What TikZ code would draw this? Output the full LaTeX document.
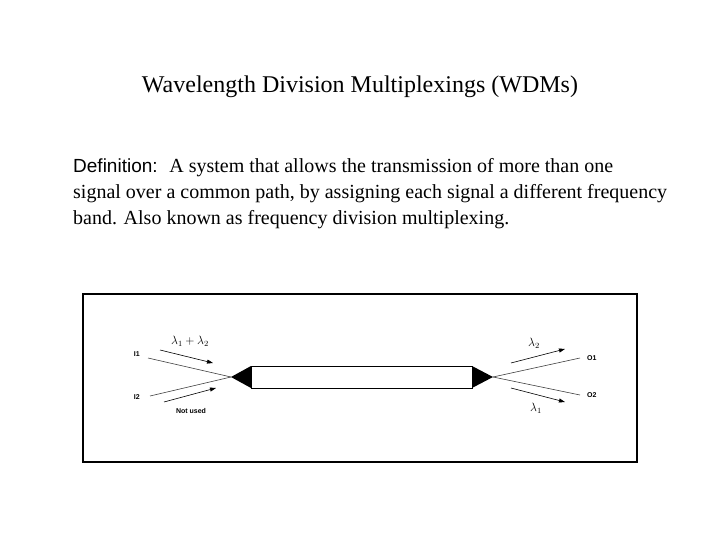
\documentclass[tikz,border=0pt]{standalone}
\usepackage{fontspec}
\setmainfont{Liberation Serif}
\newfontfamily\defsans{Liberation Sans}
\usetikzlibrary{arrows.meta}
\begin{document}
\begin{tikzpicture}[x=1pt,y=-1pt,
  fib/.style={line width=0.6pt,draw=black!75},
  sig/.style={line width=0.6pt,-{Triangle[length=6pt,width=4pt]}},
  port/.style={font=\defsans\bfseries\fontsize{7}{8}\selectfont,inner sep=1pt},
  lam/.style={font=\fontsize{12}{13}\selectfont,inner sep=1pt}]
\useasboundingbox (0,0) rectangle (720,540);
\node (title) at (360,87) {\fontsize{24}{26}\selectfont Wavelength Division Multiplexings (WDMs)};
\node[anchor=north west,align=left,inner sep=0pt,font=\fontsize{20}{26}\selectfont] (def) at (73,158)
 {{\defsans\fontsize{19}{26}\selectfont Definition:} \ A system that allows the transmission of more than one\\
 signal over a common path, by assigning each signal a different frequency\\
 band. Also known as frequency division multiplexing.};
\draw[line width=1.8pt] (83,294) rectangle (637,462);
\coordinate (L) at (231,377);
\coordinate (R) at (493,377);
\fill (L) -- (251,366) -- (251,388) -- cycle;
\fill (R) -- (472,366) -- (472,388) -- cycle;
\draw[line width=0.8pt] (251,366) rectangle (472,388);
\coordinate (i1) at (148,358);
\coordinate (i2) at (150,396);
\coordinate (o1) at (580,358);
\coordinate (o2) at (580,395);
\draw[fib] (i1) -- (L); \draw[fib] (i2) -- (L);
\draw[fib] (R) -- (o1); \draw[fib] (R) -- (o2);
\node[port,anchor=east] (I1) at (141,354) {I1};
\node[port,anchor=east] (I2) at (141,397) {I2};
\node[port,anchor=west] (O1) at (586,358) {O1};
\node[port,anchor=west] (O2) at (586,395) {O2};
\coordinate (a1s) at (160,350); \coordinate (a1e) at (213,363);
\coordinate (a2s) at (164,402); \coordinate (a2e) at (216,388);
\coordinate (a3s) at (511,363); \coordinate (a3e) at (565,349);
\coordinate (a4s) at (511,388); \coordinate (a4e) at (565,402);
\draw[sig] (a1s) -- (a1e); \draw[sig] (a2s) -- (a2e);
\draw[sig] (a3s) -- (a3e); \draw[sig] (a4s) -- (a4e);
\node[lam] (l12) at (190,341) {$\lambda_1+\lambda_2$};
\node[port] (nu) at (191,411) {Not used};
\node[lam] (l2) at (534,343) {$\lambda_2$};
\node[lam] (l1) at (536,408) {$\lambda_1$};
\end{tikzpicture}
\end{document}
